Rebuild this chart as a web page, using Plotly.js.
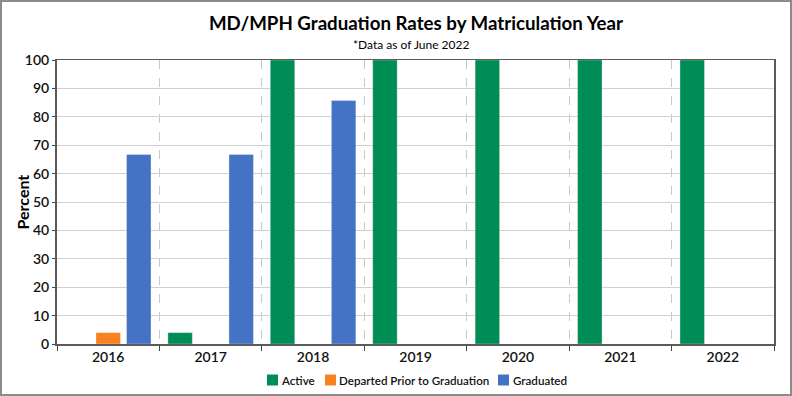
<!DOCTYPE html>
<html>
<head>
<meta charset="utf-8">
<script src="https://cdn.plot.ly/plotly-3.0.1.min.js"></script>
<style>
html,body{margin:0;padding:0;background:#fff;}
#wrap{position:relative;width:792px;height:396px;}
#chart{width:792px;height:396px;}
#frame{position:absolute;left:0;top:0;width:788px;height:392px;border:2px solid #8c8c8c;pointer-events:none;}
</style>
</head>
<body>
<div id="wrap"><div id="chart"></div><div id="frame"></div></div>
<script>
const years = ["2016","2017","2018","2019","2020","2021","2022"];
const active = [0, 4, 100, 100, 100, 100, 100];
const departed = [4, 0, 0, 0, 0, 0, 0];
const graduated = [66.7, 66.7, 85.7, 0, 0, 0, 0];
const seriesNames = ["Active", "Departed Prior to Graduation", "Graduated"];
const seriesColors = ["#008C55", "#F7821F", "#4472C4"];
const yTicks = [0,10,20,30,40,50,60,70,80,90,100];

const FONT = "Lato, 'Open Sans', sans-serif";
const M = {l: 57, r: 18, t: 60, b: 52};
const W = 792, H = 396;
const PW = W - M.l - M.r, PH = H - M.t - M.b;
const px2x = px => (px - M.l) / PW;
const px2y = py => (H - M.b - py) / PH;

const mk = (i, y) => ({
  type: "bar", name: seriesNames[i], x: years, y: y,
  marker: {color: seriesColors[i], line: {color: "rgba(255,255,255,0.6)", width: 0.5}},
  showlegend: false
});
const data = [mk(0, active), mk(1, departed), mk(2, graduated)];

// custom compact legend, like the reference
const legSquareX = [267, 325, 498];
const legTextX = [281, 339, 513];
const legY = 380;
const shapes = seriesNames.map((n, i) => ({
  type: "rect", xref: "paper", yref: "paper",
  x0: px2x(legSquareX[i]), x1: px2x(legSquareX[i] + 11),
  y0: px2y(legY - 5.5), y1: px2y(legY + 5.5),
  fillcolor: seriesColors[i], line: {width: 0}
}));
const annotations = [
  {text: "*Data as of June 2022", xref: "paper", yref: "paper", x: px2x(410.5), y: px2y(45), yanchor: "middle", xanchor: "center", showarrow: false, font: {family: FONT, size: 12, color: "#000"}},
  {text: "<b>Percent</b>", xref: "paper", yref: "paper", x: px2x(21.5), y: px2y(202), xanchor: "center", yanchor: "middle", textangle: -90, showarrow: false, font: {family: FONT, size: 16, color: "#000"}}
].concat(seriesNames.map((n, i) => ({
  text: n, xref: "paper", yref: "paper", x: px2x(legTextX[i]), y: px2y(legY), xanchor: "left", yanchor: "middle",
  showarrow: false, xshift: -2, font: {family: FONT, size: 11.6, color: "#111", weight: 600}
})));

const layout = {
  width: W, height: H,
  margin: M,
  paper_bgcolor: "#fff", plot_bgcolor: "#fff",
  font: {family: FONT, color: "#111", size: 13},
  barmode: "group", bargap: 0.105, bargroupgap: 0.2,
  title: {text: "<b>MD/MPH Graduation Rates by Matriculation Year</b>", x: 416 / W, xref: "container", xanchor: "center", yref: "container", y: 1 - 23.5 / H, yanchor: "middle", font: {family: FONT, size: 18.7, color: "#000"}},
  annotations: annotations,
  shapes: shapes,
  xaxis: {
    type: "category", tickson: "boundaries", showgrid: true, gridcolor: "#c8c8c8", griddash: "dash", gridwidth: 1,
    ticks: "outside", ticklen: 5, tickcolor: "#444", showline: true, linecolor: "#5a5a5a", linewidth: 1.5, mirror: true,
    tickfont: {family: FONT, size: 14, color: "#111", weight: 600}, fixedrange: true, automargin: false
  },
  yaxis: {
    range: [0, 100], tickvals: yTicks, ticktext: yTicks.map(String), showgrid: true, gridcolor: "#d0d0d0", gridwidth: 1,
    ticks: "outside", ticklen: 3, tickcolor: "#444", showline: true, linecolor: "#5a5a5a", linewidth: 2, mirror: true,
    zeroline: false, automargin: false,
    tickfont: {family: FONT, size: 14, color: "#111", weight: 600}
  },
  showlegend: false
};
Plotly.newPlot("chart", data, layout, {displayModeBar: false, staticPlot: true});
</script>
</body>
</html>
